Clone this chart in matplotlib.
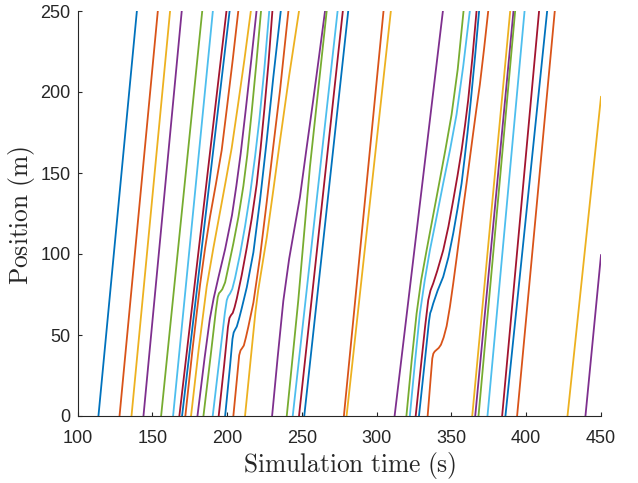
import matplotlib
matplotlib.use("Agg")
import matplotlib.pyplot as plt

# MATLAB default colour order
colors = ["#0072BD", "#D95319", "#EDB120", "#7E2F8E", "#77AC30", "#4DBEEE", "#A2142F"]

# Vehicle trajectories: time (s) and position (m)
veh_t = [
    [114.0, 139.7],
    [128.1, 153.7],
    [136.1, 161.9],
    [144.1, 169.7],
    [155.9, 183.4],
    [163.9, 190.5],
    [168.1, 199.6],
    [169.9, 201.7],
    [172.1, 177.0, 182.0, 185.3, 188.6, 192.5, 196.4, 200.0, 203.8, 207.5],
    [175.9, 181.0, 186.4, 190.9, 195.5, 199.3, 203.1, 207.3, 211.6, 215.9],
    [180.2, 185.0, 188.5, 191.0, 194.2, 198.7, 203.3, 206.2, 209.1, 212.6, 216.2, 219.7],
    [184.2, 189.0, 192.5, 193.8, 194.6, 195.6, 196.8, 198.7, 200.9, 204.2, 207.6, 210.9, 213.5, 216.5, 219.6, 222.7],
    [190.4, 195.0, 198.5, 199.8, 200.8, 202.0, 203.5, 205.3, 208.7, 212.0, 215.4, 218.7, 221.6, 224.9, 228.2],
    [194.4, 198.0, 200.6, 201.6, 202.6, 203.8, 205.0, 206.5, 209.8, 213.2, 216.5, 219.8, 222.4, 225.0, 227.7, 230.3],
    [198.7, 202.0, 203.6, 204.4, 205.3, 206.5, 208.0, 209.8, 213.2, 217.6, 222.0, 226.5, 230.9, 235.9],
    [204.2, 206.5, 208.1, 209.0, 210.0, 211.2, 212.6, 214.2, 217.6, 222.0, 226.5, 230.9, 235.4, 241.0],
    [212.0, 216.0, 219.0, 220.8, 222.8, 226.5, 231.0, 235.4, 241.5, 248.1],
    [230.1, 233.8, 237.6, 241.5, 245.0, 248.7, 253.1, 257.6, 261.5, 265.5],
    [239.9, 247.6, 255.4, 266.6],
    [243.9, 273.9],
    [248.1, 277.4],
    [251.6, 281.0],
    [278.1, 304.6],
    [279.9, 309.5],
    [312.0, 344.3],
    [319.9, 323.5, 326.7, 329.8, 333.4, 337.6, 341.8, 346.0, 350.1, 354.2, 358.1],
    [322.2, 325.6, 328.9, 332.2, 335.6, 340.0, 344.5, 349.0, 353.4, 357.9, 362.3],
    [326.1, 330.3, 332.5, 334.5, 336.0, 337.8, 340.5, 344.5, 348.0, 351.2, 354.1, 356.8, 359.1, 361.2, 364.0, 366.8],
    [328.3, 332.0, 335.0, 335.8, 336.6, 337.8, 340.8, 344.5, 348.0, 351.2, 354.1, 356.8, 358.8, 360.7, 363.0, 365.8, 368.5],
    [334.1, 336.0, 337.2, 337.9, 338.8, 340.0, 341.5, 343.0, 344.8, 346.8, 349.0, 351.2, 353.4, 355.6, 357.8, 360.1, 362.3, 364.5, 366.7, 369.0, 371.8, 374.6],
    [363.9, 389.3],
    [365.9, 391.5],
    [368.1, 392.6],
    [374.1, 398.9],
    [383.9, 408.6],
    [386.1, 414.0],
    [393.9, 419.1],
    [427.6, 450.0],
    [439.6, 450.0],
]
veh_p = [
    [0, 250],
    [0, 250],
    [0, 250],
    [0, 250],
    [0, 250],
    [0, 250],
    [0, 250],
    [0, 250],
    [0, 42, 81.5, 103.5, 123, 143, 164, 191, 220, 250],
    [0, 41, 80, 104, 127, 146, 165.5, 192, 220, 250],
    [0, 36, 60, 72.5, 85.5, 103, 124, 142, 162, 190, 220, 250],
    [0, 37, 65, 73.5, 75.8, 76.8, 78.2, 82.5, 92, 106.5, 122.9, 142, 161, 188, 218, 250],
    [0, 36, 63.5, 71.5, 74.0, 75.6, 78.5, 85, 100, 117, 137, 160, 183, 214, 250],
    [0, 31, 55, 60.5, 62.2, 63.6, 67, 72.5, 87, 104, 122, 143, 165, 190, 218, 250],
    [0, 31, 47.5, 51.5, 53.2, 55.2, 60, 66.5, 79.5, 101, 133, 170, 209, 250],
    [0, 22, 37.5, 40.5, 41.8, 43.5, 48.5, 55, 70, 98, 132, 166.5, 201, 250],
    [0, 37, 64.5, 77.5, 89, 110, 140, 170, 210, 250],
    [0, 36, 71, 97, 115.5, 135, 165, 195, 222, 250],
    [0, 71.3, 153.8, 250],
    [0, 250],
    [0, 250],
    [0, 250],
    [0, 250],
    [0, 250],
    [0, 250],
    [0, 35, 63.2, 84, 102.3, 123, 143.6, 164.5, 186, 214, 250],
    [0, 33, 63.2, 84, 102.3, 122.5, 143.6, 164, 186, 216, 250],
    [0, 37, 56, 71.5, 77.5, 81.8, 89.5, 102.3, 117, 133.2, 148.5, 164, 179.5, 195, 221, 250],
    [0, 32, 58.5, 63.5, 65.5, 69.4, 77.5, 85.9, 98, 112.7, 128, 143.6, 159, 174.4, 195, 222, 250],
    [0, 22, 35.5, 38.5, 39.8, 40.8, 42.0, 44.0, 48.5, 55.5, 67.5, 81.8, 97, 112.7, 128, 143.6, 159, 174.4, 189.5, 204.5, 226.5, 250],
    [0, 250],
    [0, 250],
    [0, 250],
    [0, 250],
    [0, 250],
    [0, 250],
    [0, 250],
    [0, 197],
    [0, 99.3],
]

x_ticks = [100, 150, 200, 250, 300, 350, 400, 450]
y_ticks = [0, 50, 100, 150, 200, 250]

plt.rcParams["mathtext.fontset"] = "cm"
fig = plt.figure(figsize=(6.38, 4.83), dpi=100)
ax = fig.add_axes([77.5 / 638, 1 - 416 / 483, (601 - 77.5) / 638, (416 - 11) / 483])

for i, (t, p) in enumerate(zip(veh_t, veh_p)):
    ax.plot(t, p, color=colors[i % 7], lw=1.3, solid_joinstyle="round")

ax.set_xlim(100, 450)
ax.set_ylim(0, 250)
ax.set_xticks(x_ticks)
ax.set_yticks(y_ticks)
ax.set_xticklabels([str(v) for v in x_ticks], fontfamily="Liberation Sans", fontsize=13)
ax.set_yticklabels([str(v) for v in y_ticks], fontfamily="Liberation Sans", fontsize=13)
for s in ["top", "right"]:
    ax.spines[s].set_visible(False)
for s in ["left", "bottom"]:
    ax.spines[s].set_color("#262626")
    ax.spines[s].set_linewidth(0.8)
ax.tick_params(axis="both", direction="in", length=3.2, width=0.8, colors="#262626")
ax.tick_params(axis="x", pad=10)
ax.tick_params(axis="y", pad=5)

ax.set_xlabel(r"$\mathrm{Simulation\ time\ (s)}$", fontsize=18.3, color="#262626")
ax.set_ylabel(r"$\mathrm{Position\ (m)}$", fontsize=18.3, color="#262626")
ax.xaxis.set_label_coords(0.52, -0.085)
ax.yaxis.set_label_coords(-0.077, 0.494)

fig.savefig("out.png", dpi=100)
